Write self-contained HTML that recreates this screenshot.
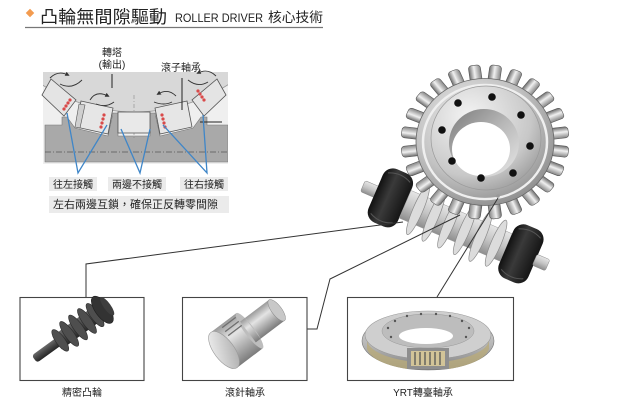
<!DOCTYPE html>
<html><head><meta charset="utf-8"><style>
html,body{margin:0;padding:0;background:#fff;}
svg{display:block;}
text{font-family:"Liberation Sans","Noto Sans CJK TC",sans-serif;}
</style></head><body>
<svg width="619" height="405" viewBox="0 0 619 405" xmlns="http://www.w3.org/2000/svg">
<defs>
<radialGradient id="gbody" cx="0.4" cy="0.35" r="0.7">
<stop offset="0" stop-color="#f2f2f2"/><stop offset="0.6" stop-color="#c2c2c2"/><stop offset="1" stop-color="#8c8c8c"/>
</radialGradient>
<radialGradient id="ghub" cx="0.35" cy="0.3" r="0.8">
<stop offset="0" stop-color="#f4f4f4"/><stop offset="0.7" stop-color="#c8c8c8"/><stop offset="1" stop-color="#9a9a9a"/>
</radialGradient>
<linearGradient id="gsleeve" x1="0" y1="0" x2="1" y2="1">
<stop offset="0" stop-color="#7a7a7a"/><stop offset="0.5" stop-color="#b8b8b8"/><stop offset="1" stop-color="#e8e8e8"/>
</linearGradient>
<linearGradient id="gtooth" x1="0" y1="0" x2="1" y2="0">
<stop offset="0" stop-color="#6e6e6e"/><stop offset="0.45" stop-color="#f0f0f0"/><stop offset="1" stop-color="#858585"/>
</linearGradient>
<linearGradient id="gshaft" x1="0" y1="0" x2="0" y2="1">
<stop offset="0" stop-color="#e6e6e6"/><stop offset="0.5" stop-color="#c4c4c4"/><stop offset="1" stop-color="#8e8e8e"/>
</linearGradient>
<linearGradient id="gblack" x1="0" y1="0" x2="1" y2="0">
<stop offset="0" stop-color="#111"/><stop offset="0.4" stop-color="#3a3a3a"/><stop offset="1" stop-color="#151515"/>
</linearGradient>
<linearGradient id="gdark" x1="0" y1="0" x2="0" y2="1">
<stop offset="0" stop-color="#6a6a6a"/><stop offset="0.5" stop-color="#454545"/><stop offset="1" stop-color="#262626"/>
</linearGradient>
<linearGradient id="gpin" x1="0" y1="0" x2="0" y2="1">
<stop offset="0" stop-color="#9a9a9a"/><stop offset="0.35" stop-color="#e4e4e4"/><stop offset="1" stop-color="#7c7c7c"/>
</linearGradient>
<linearGradient id="gface" x1="0" y1="0" x2="1" y2="1">
<stop offset="0" stop-color="#f4f4f4"/><stop offset="1" stop-color="#a8a8a8"/>
</linearGradient>
<linearGradient id="gbear" x1="0" y1="0" x2="0" y2="1">
<stop offset="0" stop-color="#e2e2e2"/><stop offset="0.6" stop-color="#b4b4b4"/><stop offset="1" stop-color="#7e7e7e"/>
</linearGradient>
<rect id="tooth" x="-6" y="-84" width="12" height="18" rx="3.5" fill="url(#gtooth)" stroke="#555" stroke-width="0.6"/>
<marker id="ah" markerWidth="5" markerHeight="5" refX="3" refY="2.5" orient="auto"><path d="M0,0 L5,2.5 L0,5 z" fill="#333"/></marker>
<clipPath id="dclip"><rect x="43" y="72" width="185" height="92"/></clipPath>
</defs>

<!-- Title -->
<rect x="27" y="10" width="6" height="6" transform="rotate(45 30 13)" fill="#f39b4f"/>
<text x="40" y="23" font-size="17.5" fill="#222" textLength="127" lengthAdjust="spacingAndGlyphs">凸輪無間隙驅動</text>
<text x="175" y="22" font-size="12" fill="#222" textLength="88" lengthAdjust="spacingAndGlyphs">ROLLER DRIVER</text>
<text x="268" y="22" font-size="13.5" fill="#222" textLength="55" lengthAdjust="spacingAndGlyphs">核心技術</text>
<line x1="25" y1="27.5" x2="323" y2="27.5" stroke="#777" stroke-width="1.3"/>

<!-- Diagram top-left -->
<text x="112" y="56" font-size="10" text-anchor="middle" fill="#222">轉塔</text>
<text x="112" y="68" font-size="10" text-anchor="middle" fill="#222">(輸出)</text>
<text x="181" y="71" font-size="10" text-anchor="middle" fill="#222">滾子軸承</text>
<g clip-path="url(#dclip)">
<rect x="43" y="72" width="185" height="92" fill="#efefef"/>
<circle cx="135" cy="-60" r="172" fill="#d8d8d8" stroke="#999" stroke-width="0.8"/>
<polygon points="45,125 62,125 62,117 67,117 75,128 108,136 113,113 118,113 118,136 150,136 150,113 155,113 160,136 193,128 201,117 207,117 207,125 228,125 228,162 45,162" fill="#a9a9a9" stroke="#777" stroke-width="0.6"/>
<line x1="45" y1="152" x2="228" y2="152" stroke="#555" stroke-width="0.7" stroke-dasharray="6 2 1 2"/>
<line x1="134" y1="95" x2="134" y2="140" stroke="#777" stroke-width="0.5" stroke-dasharray="4 2 1 2"/>
</g>
<!-- rollers -->
<polygon points="42,95 51,79 76,100 64,116" fill="#e4e4e4" stroke="#555" stroke-width="0.8"/>
<polygon points="81,101 113,108 108,134 76,127" fill="#e6e6e6" stroke="#555" stroke-width="0.8"/>
<polygon points="79,104 85,105 80,128 75,127" fill="#cfcfcf" stroke="#555" stroke-width="0.6"/>
<rect x="118" y="112" width="32" height="21" fill="#e9e9e9" stroke="#555" stroke-width="0.8"/>
<polygon points="187,101 155,108 160,134 192,127" fill="#e6e6e6" stroke="#555" stroke-width="0.8"/>
<polygon points="226,95 217,79 192,100 204,116" fill="#e4e4e4" stroke="#555" stroke-width="0.8"/>
<line x1="112" y1="74" x2="112" y2="88" stroke="#222" stroke-width="1"/>
<line x1="182" y1="78" x2="182" y2="110" stroke="#222" stroke-width="1"/>
<line x1="200" y1="122" x2="222" y2="122" stroke="#222" stroke-width="1"/>
<!-- red contact marks -->
<g fill="#d94a4a">
<circle cx="70" cy="100" r="1.6"/><circle cx="68" cy="103" r="1.6"/><circle cx="66" cy="106" r="1.6"/><circle cx="64" cy="109" r="1.6"/>
<circle cx="104" cy="115" r="1.6"/><circle cx="103" cy="119" r="1.6"/><circle cx="102" cy="123" r="1.6"/><circle cx="101" cy="127" r="1.6"/>
<circle cx="162" cy="115" r="1.6"/><circle cx="163" cy="119" r="1.6"/><circle cx="164" cy="123" r="1.6"/><circle cx="165" cy="127" r="1.6"/>
<circle cx="198" cy="91" r="1.6"/><circle cx="200" cy="94" r="1.6"/><circle cx="202" cy="97" r="1.6"/><circle cx="204" cy="100" r="1.6"/>
</g>
<!-- curved arrows -->
<g stroke="#333" stroke-width="0.9" fill="none">
<path d="M50,78 q8,-8 18,-3" marker-end="url(#ah)"/><path d="M60,84 q12,6 22,-4"/>
<path d="M90,100 q6,-10 18,-4" marker-end="url(#ah)"/><path d="M96,104 q10,4 18,-2"/>
<path d="M176,96 q-8,-8 -18,-2" marker-end="url(#ah)"/><path d="M172,102 q-8,4 -18,0"/>
<path d="M216,76 q-8,-8 -18,-3" marker-end="url(#ah)"/><path d="M208,82 q-10,6 -20,-2"/>
</g>
<!-- blue lines -->
<g stroke="#3f86c8" stroke-width="1.3" fill="none">
<polyline points="67,113 78,173 107,125"/>
<polyline points="121,129 140,173 150,129"/>
<polyline points="163,125 207,173 203,115"/>
</g>
<rect x="49" y="177" width="48" height="14" fill="#ebebeb"/>
<text x="73" y="188" font-size="10" text-anchor="middle" fill="#222">往左接觸</text>
<rect x="108" y="177" width="58" height="14" fill="#ebebeb"/>
<text x="137" y="188" font-size="10" text-anchor="middle" fill="#222">兩邊不接觸</text>
<rect x="180" y="177" width="48" height="14" fill="#ebebeb"/>
<text x="204" y="188" font-size="10" text-anchor="middle" fill="#222">往右接觸</text>
<rect x="49" y="196" width="180" height="17" fill="#ebebeb"/>
<text x="53" y="208" font-size="11" fill="#222">左右兩邊互鎖，確保正反轉零間隙</text>

<!-- Worm shaft -->
<g transform="translate(372,190) rotate(23.2)">
<rect x="-10" y="-6" width="16" height="12" rx="2" fill="url(#gshaft)" stroke="#888" stroke-width="0.5"/>
<rect x="4" y="-29" width="32" height="58" rx="11" fill="url(#gblack)"/>
<path d="M8,-22 q12,-6 24,0 M8,22 q12,6 24,0" stroke="#555" stroke-width="1" fill="none"/>
<rect x="36" y="-15" width="110" height="30" fill="url(#gshaft)" stroke="#999" stroke-width="0.5"/>
<g fill="#dcdcdc" stroke="#8a8a8a" stroke-width="0.7">
<ellipse cx="50" cy="0" rx="5" ry="27"/><ellipse cx="67" cy="0" rx="5" ry="27"/><ellipse cx="84" cy="0" rx="5" ry="27"/>
<ellipse cx="101" cy="0" rx="5" ry="27"/><ellipse cx="118" cy="0" rx="5" ry="27"/><ellipse cx="135" cy="0" rx="5" ry="25"/>
</g>
<rect x="146" y="-29" width="32" height="58" rx="11" fill="url(#gblack)"/>
<path d="M150,-22 q12,-6 24,0 M150,22 q12,6 24,0" stroke="#555" stroke-width="1" fill="none"/>
<rect x="177" y="-6" width="14" height="12" rx="2" fill="url(#gshaft)" stroke="#888" stroke-width="0.5"/>
</g>

<!-- Gear -->
<g transform="translate(485,142) scale(1,0.92)">
<use href="#tooth" transform="rotate(7.5)"/><use href="#tooth" transform="rotate(22.5)"/><use href="#tooth" transform="rotate(37.5)"/>
<use href="#tooth" transform="rotate(52.5)"/><use href="#tooth" transform="rotate(67.5)"/><use href="#tooth" transform="rotate(82.5)"/>
<use href="#tooth" transform="rotate(97.5)"/><use href="#tooth" transform="rotate(112.5)"/><use href="#tooth" transform="rotate(127.5)"/>
<use href="#tooth" transform="rotate(142.5)"/><use href="#tooth" transform="rotate(157.5)"/><use href="#tooth" transform="rotate(172.5)"/>
<use href="#tooth" transform="rotate(187.5)"/><use href="#tooth" transform="rotate(202.5)"/><use href="#tooth" transform="rotate(217.5)"/>
<use href="#tooth" transform="rotate(232.5)"/><use href="#tooth" transform="rotate(247.5)"/><use href="#tooth" transform="rotate(262.5)"/>
<use href="#tooth" transform="rotate(277.5)"/><use href="#tooth" transform="rotate(292.5)"/><use href="#tooth" transform="rotate(307.5)"/>
<use href="#tooth" transform="rotate(322.5)"/><use href="#tooth" transform="rotate(337.5)"/><use href="#tooth" transform="rotate(352.5)"/>
<circle r="69" fill="url(#gbody)" stroke="#666" stroke-width="0.8"/>
<circle r="62" fill="none" stroke="#efefef" stroke-width="2.5"/>
</g>
<ellipse cx="486" cy="138" rx="55" ry="52" fill="url(#ghub)" stroke="#999" stroke-width="0.7"/>
<ellipse cx="484" cy="143" rx="35" ry="34" fill="url(#gsleeve)"/>
<ellipse cx="481" cy="149" rx="29" ry="27" fill="#fff"/>
<g fill="#111">
<circle cx="492" cy="97" r="3.8"/><circle cx="521" cy="115" r="3.8"/><circle cx="530" cy="146" r="3.8"/><circle cx="513" cy="173" r="3.8"/>
<circle cx="481" cy="178" r="3.8"/><circle cx="452" cy="161" r="3.8"/><circle cx="442" cy="130" r="3.8"/><circle cx="458" cy="103" r="3.8"/>
</g>
<circle cx="498" cy="196" r="1.8" fill="#999"/>

<!-- connector lines -->
<g stroke="#333" stroke-width="1" fill="none">
<polyline points="86,297 86,264 403,222"/>
<polyline points="307,329 317,329 330,279 460,215"/>
<polyline points="437,297 498,198"/>
</g>

<!-- Boxes -->
<rect x="20" y="297.5" width="124" height="83" fill="#fff" stroke="#444" stroke-width="1.1"/>
<rect x="182.5" y="297.5" width="124.5" height="83" fill="#fff" stroke="#444" stroke-width="1.1"/>
<rect x="347.5" y="297.5" width="166" height="83" fill="#fff" stroke="#444" stroke-width="1.1"/>

<!-- Box1: worm screw -->
<g transform="translate(36,358) rotate(-36)">
<rect x="-2" y="-4.5" width="30" height="9" rx="3" fill="url(#gdark)"/>
<rect x="26" y="-8" width="54" height="16" fill="url(#gdark)"/>
<g fill="#4e4e4e" stroke="#2a2a2a" stroke-width="0.6">
<ellipse cx="30" cy="0" rx="4.5" ry="13"/><ellipse cx="41" cy="0" rx="4.5" ry="15"/><ellipse cx="52" cy="0" rx="4.5" ry="15"/>
<ellipse cx="63" cy="0" rx="4.5" ry="15"/><ellipse cx="73" cy="0" rx="4.5" ry="14"/>
</g>
<ellipse cx="82" cy="0" rx="7" ry="16" fill="#333" stroke="#1e1e1e" stroke-width="0.6"/>
<ellipse cx="88" cy="0" rx="3.5" ry="11" fill="#3e3e3e"/>
</g>

<!-- Box2: needle roller pin -->
<g transform="translate(224,350) rotate(-37)">
<rect x="30" y="-13" width="36" height="26" fill="url(#gpin)"/>
<ellipse cx="66" cy="0" rx="5" ry="13" fill="#c8c8c8" stroke="#8a8a8a" stroke-width="0.5"/>
<rect x="0" y="-22" width="32" height="44" fill="url(#gpin)"/>
<ellipse cx="32" cy="0" rx="5" ry="22" fill="#bdbdbd"/>
<rect x="30" y="-13" width="6" height="26" fill="url(#gpin)"/>
<g stroke="#6e6e6e" stroke-width="1.3"><line x1="12" y1="-19" x2="29" y2="-19"/><line x1="12" y1="-14" x2="29" y2="-14"/><line x1="12" y1="-9" x2="29" y2="-9"/></g>
<ellipse cx="0" cy="0" rx="10" ry="22" fill="url(#gface)" stroke="#999" stroke-width="0.6"/>
</g>

<!-- Box3: YRT bearing -->
<ellipse cx="428" cy="341" rx="66" ry="29" fill="url(#gbear)" stroke="#777" stroke-width="0.6"/>
<ellipse cx="428" cy="335" rx="63" ry="24" fill="#cfcfcf" stroke="#999" stroke-width="0.6"/>
<path d="M367,341 q4,14 40,20 l0,8 q-35,-6 -40,-20z" fill="#b9ab7c" opacity="0.8"/>
<path d="M489,341 q-4,14 -40,20 l0,8 q35,-6 40,-20z" fill="#b9ab7c" opacity="0.8"/>
<ellipse cx="428" cy="331" rx="46" ry="17" fill="#bdbdbd" stroke="#999" stroke-width="0.5"/>
<g fill="#555">
<circle cx="388" cy="328" r="1.2"/><circle cx="395" cy="321" r="1.2"/><circle cx="407" cy="316" r="1.2"/><circle cx="421" cy="314" r="1.2"/>
<circle cx="436" cy="314" r="1.2"/><circle cx="450" cy="316" r="1.2"/><circle cx="462" cy="321" r="1.2"/><circle cx="469" cy="328" r="1.2"/>
<circle cx="466" cy="337" r="1.2"/><circle cx="391" cy="337" r="1.2"/>
</g>
<ellipse cx="426" cy="336" rx="27" ry="8" fill="#fff"/>
<rect x="407" y="348" width="42" height="21" fill="#8e8e8e"/>
<rect x="411" y="351" width="34" height="15" fill="#d2c498"/>
<g stroke="#555" stroke-width="1.3">
<line x1="415" y1="352" x2="415" y2="365"/><line x1="420" y1="352" x2="420" y2="365"/><line x1="425" y1="352" x2="425" y2="365"/>
<line x1="430" y1="352" x2="430" y2="365"/><line x1="435" y1="352" x2="435" y2="365"/><line x1="440" y1="352" x2="440" y2="365"/>
</g>

<!-- Box labels -->
<text x="82" y="396" font-size="10" text-anchor="middle" fill="#222">精密凸輪</text>
<text x="245" y="396" font-size="10" text-anchor="middle" fill="#222">滾針軸承</text>
<text x="423" y="396" font-size="10" text-anchor="middle" fill="#222">YRT轉臺軸承</text>
</svg>
</body></html>
